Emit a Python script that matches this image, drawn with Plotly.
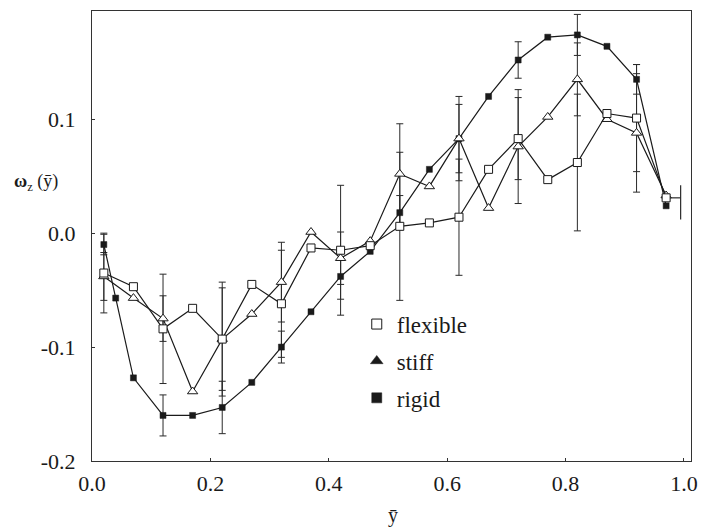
import plotly.graph_objects as go

# Spanwise positions (ȳ) and vorticity profiles ω_z(ȳ) for the three cases
y_bar = [0.02, 0.07, 0.12, 0.17, 0.22, 0.27, 0.32, 0.37, 0.42, 0.47,
         0.52, 0.57, 0.62, 0.67, 0.72, 0.77, 0.82, 0.87, 0.92, 0.97]

flexible = [-0.035, -0.047, -0.084, -0.066, -0.093, -0.045, -0.062, -0.013, -0.015, -0.011,
            0.006, 0.009, 0.014, 0.056, 0.083, 0.047, 0.062, 0.105, 0.101, 0.031]
stiff = [-0.038, -0.057, -0.075, -0.139, -0.093, -0.071, -0.043, 0.001, -0.022, -0.007,
         0.052, 0.041, 0.083, 0.022, 0.076, 0.102, 0.135, 0.100, 0.088, 0.033]

y_bar_rigid = [0.02, 0.04, 0.07, 0.12, 0.17, 0.22, 0.27, 0.32, 0.37, 0.42, 0.47,
               0.52, 0.57, 0.62, 0.67, 0.72, 0.77, 0.82, 0.87, 0.92, 0.97]
rigid = [-0.010, -0.057, -0.127, -0.160, -0.160, -0.153, -0.131, -0.100, -0.069, -0.038, -0.016,
         0.018, 0.056, 0.083, 0.120, 0.152, 0.172, 0.174, 0.164, 0.135, 0.024]

# Uncertainty (±) at every second station; None where no bar is drawn
flexible_err = [0.035, None, 0.048, None, 0.045, None, 0.047, None, 0.057, None,
                0.065, None, 0.051, None, 0.036, None, 0.060, None, 0.047, None]
stiff_err = [0.021, None, 0.020, None, 0.050, None, 0.035, None, 0.023, None,
             0.044, None, 0.030, None, 0.050, None, 0.032, None, 0.052, None]
rigid_err = [0.009, None, None, 0.018, None, 0.023, None, 0.014, None, 0.020, None,
             0.015, None, 0.037, None, 0.016, None, 0.018, None, 0.013, None]

# Bar at the last station, drawn offset to the right of the point
end_offset = 0.0245
end_err_plus = 0.011
end_err_minus = 0.019

x_ticks = [0.0, 0.2, 0.4, 0.6, 0.8, 1.0]
x_tick_text = ["0.0", "0.2", "0.4", "0.6", "0.8", "1.0"]
y_ticks = [-0.2, -0.1, 0.0, 0.1]
y_tick_text = ["-0.2", "-0.1", "0.0", "0.1"]

series_names = ["flexible", "stiff", "rigid"]

SERIF = "Liberation Serif"
INK = "#1a1a1a"

fig = go.Figure()


def add_error_trace(xs, ys, errs):
    px = [x for x, e in zip(xs, errs) if e is not None]
    py = [y for y, e in zip(ys, errs) if e is not None]
    pe = [e for e in errs if e is not None]
    fig.add_trace(go.Scatter(
        x=px, y=py, mode="markers",
        marker=dict(size=1, color="rgba(0,0,0,0)"),
        error_y=dict(type="data", array=pe, symmetric=True,
                     color="#2a2a2a", thickness=1, width=3.5),
        showlegend=False, hoverinfo="skip"))


add_error_trace(y_bar, flexible, flexible_err)
add_error_trace(y_bar, stiff, stiff_err)
add_error_trace(y_bar_rigid, rigid, rigid_err)

# offset bar at the final station
fig.add_trace(go.Scatter(
    x=[y_bar[-1]], y=[flexible[-1]], mode="markers",
    marker=dict(size=1, color="rgba(0,0,0,0)"),
    error_x=dict(type="data", array=[end_offset], arrayminus=[0], symmetric=False,
                 color="#2a2a2a", thickness=1.2, width=0),
    showlegend=False, hoverinfo="skip"))
fig.add_trace(go.Scatter(
    x=[y_bar[-1] + end_offset], y=[flexible[-1]], mode="markers",
    marker=dict(size=1, color="rgba(0,0,0,0)"),
    error_y=dict(type="data", array=[end_err_plus], arrayminus=[end_err_minus],
                 symmetric=False, color="#2a2a2a", thickness=1.2, width=0),
    showlegend=False, hoverinfo="skip"))

line_style = dict(color=INK, width=1.2)

fig.add_trace(go.Scatter(
    x=y_bar_rigid, y=rigid, mode="lines+markers", line=line_style,
    marker=dict(symbol="square", size=6, color=INK, line=dict(color=INK, width=0.5)),
    showlegend=False))
fig.add_trace(go.Scatter(
    x=y_bar, y=stiff, mode="lines+markers", line=line_style,
    marker=dict(symbol="triangle-up", size=9, color="white", line=dict(color=INK, width=1)),
    showlegend=False))
fig.add_trace(go.Scatter(
    x=y_bar, y=flexible, mode="lines+markers", line=line_style,
    marker=dict(symbol="square", size=8, color="white", line=dict(color=INK, width=1)),
    showlegend=False))

# legend entries
legend_markers = [
    dict(symbol="square", size=10, color="white", line=dict(color=INK, width=1)),
    dict(symbol="triangle-up", size=11, color=INK, line=dict(color=INK, width=0.5)),
    dict(symbol="square", size=10, color=INK, line=dict(color=INK, width=0.5)),
]
for name, mk in zip(series_names, legend_markers):
    fig.add_trace(go.Scatter(x=[None], y=[None], mode="markers", name=name,
                             marker=mk, legendgroup=name, showlegend=True))

axis_common = dict(
    showline=True, mirror=True, linecolor="#333333", linewidth=1,
    ticks="inside", ticklen=3, tickcolor="#333333", tickwidth=1,
    showgrid=False, zeroline=False, ticklabeloverflow="allow",
    tickfont=dict(family=SERIF, size=22, color=INK),
)

fig.update_layout(
    width=704, height=528,
    margin=dict(l=92, r=6, t=11, b=67),
    paper_bgcolor="white", plot_bgcolor="white",
    xaxis=dict(range=[0.0, 1.012], tickvals=x_ticks, ticktext=x_tick_text,
               ticklabelstandoff=3, **axis_common),
    yaxis=dict(range=[-0.2, 0.195], tickvals=y_ticks, ticktext=y_tick_text,
               ticklabelstandoff=11, **axis_common),
    legend=dict(x=0.442, y=0.352, xanchor="left", yanchor="top",
                bgcolor="rgba(0,0,0,0)", borderwidth=0,
                font=dict(family=SERIF, size=23, color=INK),
                traceorder="grouped", tracegroupgap=4),
    annotations=[
        dict(text="<b>ω</b><sub>z</sub> (ȳ)", xref="paper", yref="paper",
             x=-0.134, xanchor="left", y=0.62, showarrow=False,
             font=dict(family=SERIF, size=18, color=INK)),
        dict(text="ȳ", xref="paper", yref="paper", x=0.503, y=0,
             yanchor="middle", yshift=-54, showarrow=False,
             font=dict(family=SERIF, size=20, color=INK)),
    ],
)

fig.write_html("out.html")
